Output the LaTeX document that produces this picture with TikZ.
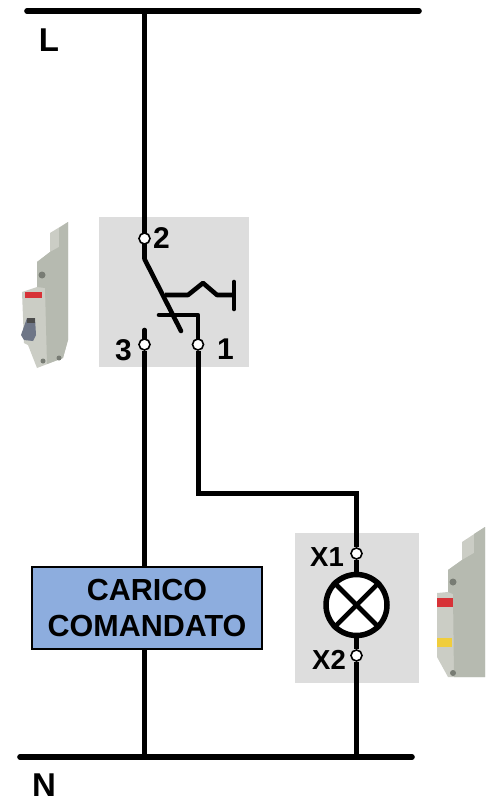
\documentclass[tikz,border=0pt]{standalone}
\usepackage{fontspec}
\setmainfont{Liberation Sans}
\definecolor{panelgray}{RGB}{221,221,221}
\definecolor{loadblue}{RGB}{141,173,222}
\definecolor{devA}{RGB}{203,205,197}
\definecolor{devB}{RGB}{182,186,176}
\definecolor{devC}{RGB}{120,124,116}
\definecolor{leverc}{RGB}{110,118,135}
\definecolor{abbred}{RGB}{215,50,55}
\definecolor{lampyellow}{RGB}{240,205,60}
\tikzset{
  wire/.style={line width=5pt,black,line cap=butt,line join=miter},
  rail/.style={line width=5.6pt,black,line cap=round},
  thin wire/.style={line width=4.6pt,black,line join=round},
  terminal/.style={circle,draw=black,fill=white,line width=1.6pt,minimum size=11pt,inner sep=0pt},
  lbl/.style={font=\bfseries\fontsize{30}{30}\selectfont,inner sep=0pt,text=black},
  biglbl/.style={font=\bfseries\fontsize{33}{33}\selectfont,inner sep=0pt,text=black},
  xlbl/.style={font=\bfseries\fontsize{27.5}{28}\selectfont,inner sep=0pt,text=black},
  panel/.style={fill=panelgray,draw=none},
  loadbox/.style={draw=black,line width=1.4pt,fill=loadblue,align=center,inner sep=0pt,
    minimum width=230pt,minimum height=82pt,font=\bfseries\fontsize{30.5}{36}\selectfont},
  lampc/.style={circle,draw=black,fill=white,line width=5.5pt,minimum size=61pt,inner sep=0pt}
}
\begin{document}
\begin{tikzpicture}[x=1pt,y=-1pt]
\useasboundingbox (0,0) rectangle (485,799);
% panels
\fill[panel] (99,217) rectangle (249,367);
\fill[panel] (295,533) rectangle (419,683);
% left device
\fill[devA] (22,292) -- (37,287) -- (37,262) -- (50,252) -- (50,233) -- (68,222) -- (68,340) -- (63,358) -- (37,368) -- (28,345) -- (24,343) -- cycle;
\fill[devB] (50,252) -- (59,247) -- (59,228) -- (68,222) -- (68,340) -- (63,358) -- (47,364) -- (45,288) -- (37,287) -- (37,262) -- cycle;
\fill[devC] (42,275) circle (3.5);
\fill[devC] (43,361) circle (2.5);
\fill[devC] (59,358) circle (2.5);
\fill[abbred] (25,292) rectangle (42,297.5);
\fill[leverc] (27,318) -- (35,318) -- (36,335) -- (33,341) -- (24,340) -- (21,335) -- cycle;
\fill[black!70] (27,318) rectangle (35,323);
% right device
\fill[devA] (437,593) -- (448,592) -- (448,570) -- (462,560) -- (462,542) -- (485,527) -- (485,677) -- (448,677) -- (437,657) -- cycle;
\fill[devB] (462,560) -- (474,553) -- (474,534) -- (485,527) -- (485,677) -- (454,677) -- (453,594) -- (448,592) -- (448,570) -- cycle;
\fill[devC] (453,582) circle (3.5);
\fill[devC] (453,673) circle (3);
\fill[abbred] (437,598) rectangle (453,607);
\fill[lampyellow] (437,638) rectangle (452,647);
% coordinates
\coordinate (Lleft) at (27,11); \coordinate (Lright) at (419,11);
\coordinate (Nleft) at (20,757); \coordinate (Nright) at (412,757);
\coordinate (Ltap) at (144.5,11); \coordinate (Ntap3) at (144.5,757); \coordinate (Ntap) at (356.5,757);
\coordinate (pivot) at (144.5,259); \coordinate (bladeend) at (181,331);
\coordinate (armstart) at (165,295); \coordinate (armtip) at (234,295);
\coordinate (contactL) at (159,315); \coordinate (contactC) at (198,315);
\coordinate (top3) at (144.5,330);
\coordinate (corner1) at (198,493); \coordinate (corner2) at (356.5,493);
% rails
\draw[rail] (Lleft) -- (Lright);
\draw[rail] (Nleft) -- (Nright);
% wires
\draw[wire] (Ltap) -- (pivot);
\draw[thin wire,line cap=round] (pivot) -- (bladeend);
\draw[thin wire] (armstart) -- (188,295) -- (203,283) -- (217,295) -- (234,295);
\draw[thin wire,line cap=round] (234,282) -- (234,309);
\draw[thin wire,line cap=round] (contactL) -- (contactC) -- (198,340);
\draw[thin wire,line cap=round] (top3) -- (144.5,345);
% nodes
\node[terminal] (t2) at (144.5,238.5) {};
\node[terminal] (t3) at (144.5,344.5) {};
\node[terminal] (t1) at (198,344.5) {};
\node[terminal] (x1) at (356.5,553.5) {};
\node[terminal] (x2) at (356.5,655.5) {};
\node[loadbox] (load) at (147,608) {CARICO\\COMANDATO};
\node[lampc] (lamp) at (356.5,605) {};
\draw[wire] (t3) -- (t3 |- load.north);
\draw[wire] (t3 |- load.south) -- (Ntap3);
\draw[wire] (t1) -- (corner1) -- (corner2) -- (x1);
\draw[wire] (x1) -- (lamp);
\draw[wire] (lamp) -- (x2);
\draw[wire] (x2) -- (Ntap);
\draw[line width=4.6pt] (lamp.45) -- (lamp.225);
\draw[line width=4.6pt] (lamp.135) -- (lamp.315);
% labels
\node[lbl,anchor=west] (n2) at (153,238) {2};
\node[lbl,anchor=east] (n3) at (132,350) {3};
\node[lbl,anchor=west] (n1) at (217,349) {1};
\node[xlbl,anchor=east] (nx1) at (344,557) {X1};
\node[xlbl,anchor=east] (nx2) at (346,660) {X2};
\node[biglbl] (nL) at (49,40.5) {L};
\node[biglbl] (nN) at (44,785) {N};
\end{tikzpicture}
\end{document}
